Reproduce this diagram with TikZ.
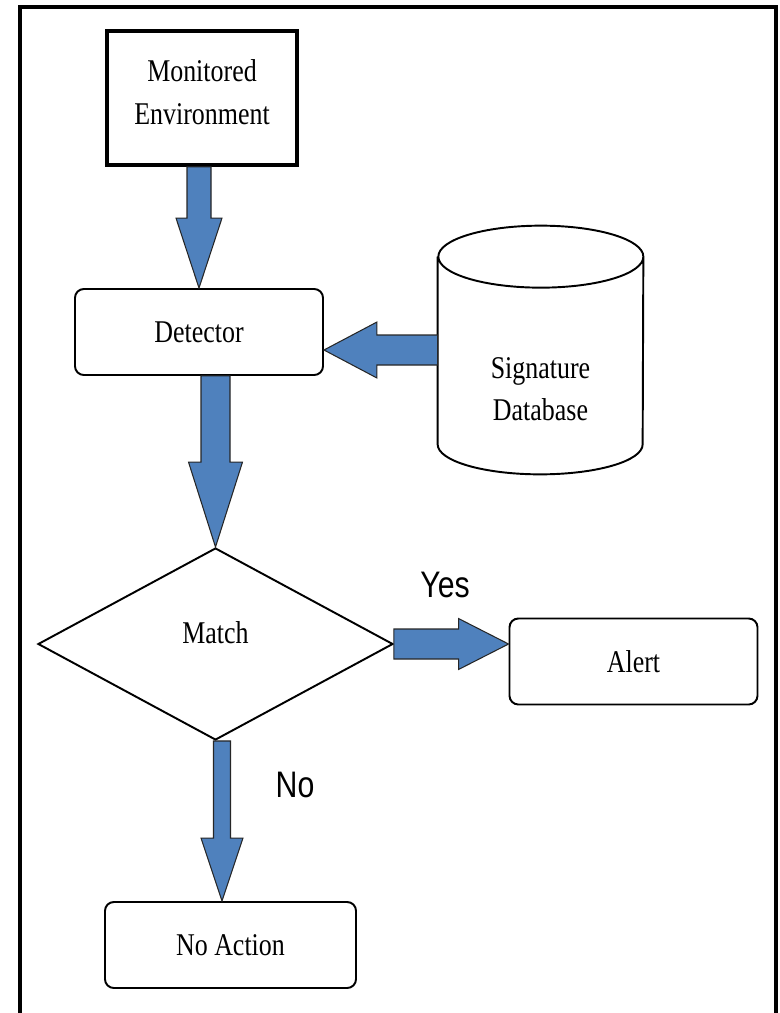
\documentclass[tikz,border=0pt]{standalone}
\usepackage{fontspec}
\setmainfont{Liberation Serif}[FakeStretch=0.82]
\setsansfont{Liberation Sans}[FakeStretch=0.82]
\usetikzlibrary{shapes.geometric,calc,positioning}
\definecolor{arrowblue}{RGB}{79,129,189}
\tikzset{
  txt/.style={font=\fontsize{18}{24}\selectfont, align=center},
  envbox/.style={txt, draw, line width=2.2pt, minimum width=3.8cm, minimum height=2.68cm, text depth=0.24cm},
  box/.style={txt, draw, line width=1.1pt, rounded corners=5pt, minimum width=4.96cm, minimum height=1.72cm},
  database/.style={minimum width=4.1cm, minimum height=4.96cm, inner sep=0pt},
  dbline/.style={draw, fill=white, line width=1.1pt},
  decision/.style={txt, draw, line width=1.1pt, diamond, aspect=1.85, inner sep=0pt,
    minimum width=7.1cm, minimum height=3.84cm, text depth=0.45cm},
  answer/.style={font=\sffamily\fontsize{21}{24}\selectfont},
  blockarrow/.style={fill=arrowblue, draw=black!85, line width=0.6pt, line join=miter},
  frame/.style={draw, line width=2.3pt}
}
% block arrows: from, tip, shaft half width, head half width, head length
\newcommand{\vblock}[5]{%
  \filldraw[blockarrow] ($(#1 -| #2)+(-#3,0)$) -- ($(#2)+(-#3,#5)$) -- ($(#2)+(-#4,#5)$) -- (#2)
    -- ($(#2)+(#4,#5)$) -- ($(#2)+(#3,#5)$) -- ($(#1 -| #2)+(#3,0)$) -- cycle;}
\newcommand{\hblock}[5]{%
  \filldraw[blockarrow] ($(#1)+(0,#3)$) -- ($(#2 |- #1)+(#5,#3)$) -- ($(#2 |- #1)+(#5,#4)$) -- (#2 |- #1)
    -- ($(#2 |- #1)+(#5,-#4)$) -- ($(#2 |- #1)+(#5,-#3)$) -- ($(#1)+(0,-#3)$) -- cycle;}
\begin{document}
\begin{tikzpicture}
  \useasboundingbox (0,0) rectangle (15.58,-20.26);
  \draw[frame] (0.40,-0.14) rectangle (15.52,-20.6);

  \node[envbox] (env) at (4.04,-1.96) {Monitored\\Environment};
  \node[box] (det) at (3.98,-6.64) {Detector};
  \node[database] (db) at (10.81,-7.0) {};
  % cylinder
  \draw[dbline] ([yshift=-0.62cm]db.north west) -- ([yshift=0.6cm]db.south west)
    arc[start angle=180, end angle=360, x radius=2.05cm, y radius=0.6cm]
    -- ([yshift=-0.62cm]db.north east)
    arc[start angle=0, end angle=180, x radius=2.05cm, y radius=0.62cm]
    arc[start angle=180, end angle=360, x radius=2.05cm, y radius=0.62cm];
  \node[txt] (dbtxt) at ([yshift=-0.78cm]db.center) {Signature\\Database};
  \node[decision] (match) at (4.31,-12.88) {Match};
  \node[box] (alert) at (12.67,-13.23) {Alert};
  \node[box, minimum width=5.02cm] (noact) at (4.61,-18.9) {No Action};
  \coordinate (noin) at ([xshift=-0.17cm]noact.north);

  \vblock{env.south}{det.north}{0.24}{0.46}{1.4}
  \hblock{db.west}{det.east}{0.3}{0.56}{1.06}
  \vblock{det.south}{match.north}{0.29}{0.54}{1.7}
  \hblock{match.east}{alert.west}{0.3}{0.51}{-1.0}
  \vblock{match.south}{noin}{0.17}{0.42}{1.26}

  \node[answer] (yes) at (8.9,-11.7) {Yes};
  \node[answer] (no) at (5.9,-15.7) {No};
\end{tikzpicture}
\end{document}
